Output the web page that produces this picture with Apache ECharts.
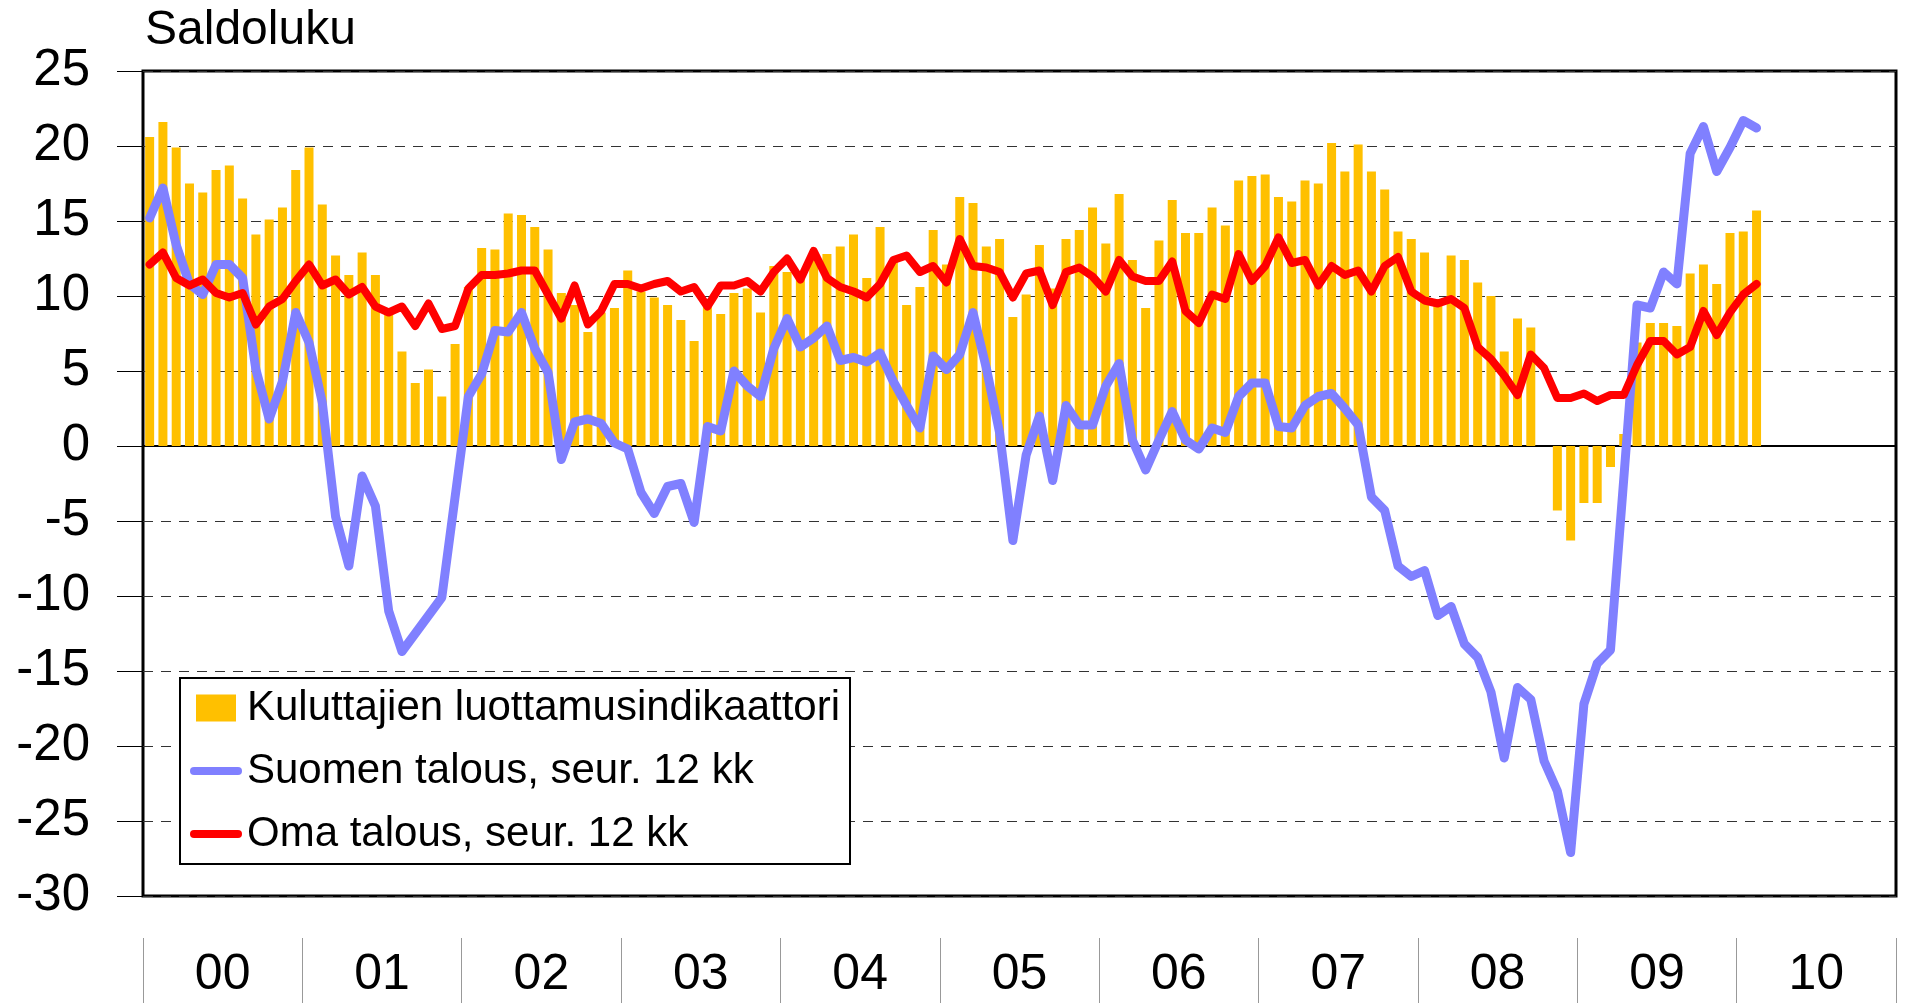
<!DOCTYPE html>
<html>
<head>
<meta charset="utf-8">
<script src="https://cdn.jsdelivr.net/npm/echarts@6/dist/echarts.min.js"></script>
<style>
  html, body { margin: 0; padding: 0; background: #fff; }
  #chart { width: 1905px; height: 1003px; }
</style>
</head>
<body>
<div id="chart"></div>
<script>
// kuukausidata 2000-01 ... 2010-02
const years = ['00', '01', '02', '03', '04', '05', '06', '07', '08', '09', '10']
const yTicks = { min: -30, max: 25, step: 5 }

// Kuluttajien luottamusindikaattori
const kuluttajat = [
  20.6, 21.6, 19.9, 17.5, 16.9, 18.4, 18.7, 16.5, 14.1, 15.1, 15.9, 18.4,
  19.9, 16.1, 12.7, 11.4, 12.9, 11.4, 9.0, 6.3, 4.2, 5.1, 3.3, 6.8,
  10.6, 13.2, 13.1, 15.5, 15.4, 14.6, 13.1, 10.2, 9.4, 7.6, 8.9, 9.2,
  11.7, 10.3, 9.9, 9.4, 8.4, 7.0, 9.4, 8.8, 10.2, 10.5, 8.9, 12.0,
  11.6, 11.2, 12.6, 12.8, 13.3, 14.1, 11.2, 14.6, 12.3, 9.4, 10.6, 14.4,
  12.1, 16.6, 16.2, 13.3, 13.8, 8.6, 10.1, 13.4, 10.5, 13.8, 14.4, 15.9,
  13.5, 16.8, 12.4, 9.2, 13.7, 16.4, 14.2, 14.2, 15.9, 14.7, 17.7, 18.0,
  18.1, 16.6, 16.3, 17.7, 17.5, 20.2, 18.3, 20.1, 18.3, 17.1, 14.3, 13.8,
  12.9, 9.8, 12.7, 12.4, 10.9, 10.0, 6.3, 8.5, 7.9, null, -4.3, -6.3,
  -3.8, -3.8, -1.4, 0.8, 6.9, 8.2, 8.2, 8.0, 11.5, 12.1, 10.8, 14.2,
  14.3, 15.7
]

// Suomen talous, seur. 12 kk
const suomi = [
  15.2, 17.2, 13.4, 10.8, 10.1, 12.1, 12.1, 11.2, 5.1, 1.8, 4.3, 8.9,
  6.9, 2.9, -4.7, -8.0, -2.0, -4.0, -11.0, -13.7, -12.5, -11.3, -10.1, -3.4,
  3.3, 4.8, 7.7, 7.6, 8.9, 6.5, 4.9, -0.9, 1.6, 1.8, 1.5, 0.2,
  -0.2, -3.1, -4.5, -2.7, -2.5, -5.1, 1.3, 1.0, 5.0, 4.0, 3.3, 6.5,
  8.5, 6.6, 7.2, 8.0, 5.7, 5.9, 5.6, 6.2, 4.3, 2.7, 1.2, 6.0,
  5.1, 6.1, 8.9, 5.2, 0.9, -6.3, -0.6, 2.0, -2.3, 2.7, 1.4, 1.4,
  4.0, 5.5, 0.4, -1.6, 0.4, 2.3, 0.4, -0.2, 1.2, 0.9, 3.3, 4.2,
  4.2, 1.3, 1.2, 2.7, 3.3, 3.5, 2.5, 1.4, -3.4, -4.3, -8.0, -8.7,
  -8.3, -11.3, -10.7, -13.2, -14.1, -16.4, -20.8, -16.1, -16.9, -21.0, -23.0, -27.1,
  -17.2, -14.5, -13.6, -2.2, 9.4, 9.2, 11.6, 10.8, 19.5, 21.3, 18.3, 19.9,
  21.7, 21.2
]

// Oma talous, seur. 12 kk
const oma = [
  12.1, 12.9, 11.2, 10.7, 11.1, 10.2, 9.9, 10.2, 8.1, 9.3, 9.8, 11.0,
  12.1, 10.7, 11.1, 10.1, 10.6, 9.3, 8.9, 9.3, 8.0, 9.5, 7.8, 8.0,
  10.5, 11.4, 11.4, 11.5, 11.7, 11.7, 10.1, 8.5, 10.7, 8.1, 9.0, 10.8,
  10.8, 10.5, 10.8, 11.0, 10.3, 10.6, 9.3, 10.7, 10.7, 11.0, 10.3, 11.6,
  12.5, 11.1, 13.0, 11.2, 10.6, 10.3, 9.9, 10.8, 12.4, 12.7, 11.6, 12.0,
  10.9, 13.8, 12.0, 11.9, 11.6, 9.9, 11.5, 11.7, 9.4, 11.6, 11.9, 11.3,
  10.3, 12.4, 11.3, 11.0, 11.0, 12.3, 9.0, 8.2, 10.1, 9.8, 12.8, 11.0,
  12.0, 13.9, 12.2, 12.4, 10.7, 12.0, 11.4, 11.7, 10.3, 12.0, 12.6, 10.3,
  9.7, 9.5, 9.8, 9.2, 6.6, 5.8, 4.7, 3.4, 6.1, 5.2, 3.2, 3.2,
  3.5, 3.0, 3.4, 3.4, 5.4, 7.0, 7.0, 6.1, 6.6, 9.0, 7.4, 8.9,
  10.1, 10.8
]

const months = []
years.forEach(y => {
  for (let m = 1; m <= 12; m++) months.push(y + '-' + (m < 10 ? '0' + m : m))
})

const font = 'Liberation Sans, Arial, sans-serif'
const lineIcon = 'path://M4,0h44a4,4 0 0 1 0,8h-44a4,4 0 0 1 0,-8z'
const chart = echarts.init(document.getElementById('chart'))
chart.setOption({
  animation: false,
  backgroundColor: '#fff',
  title: {
    text: 'Saldoluku',
    left: 140,
    top: 2,
    textStyle: { fontFamily: font, fontSize: 48, fontWeight: 'normal', color: '#000' }
  },
  legend: {
    orient: 'vertical',
    left: 180,
    top: 678,
    padding: [9, 10, 9, 10],
    itemGap: 21,
    itemWidth: 52,
    itemHeight: 27,
    backgroundColor: '#fff',
    borderColor: '#000',
    borderWidth: 2,
    textStyle: { fontFamily: font, fontSize: 42, color: '#000' },
    data: [
      { name: 'Kuluttajien luottamusindikaattori', icon: 'path://M0,0h40v27h-40z' },
      { name: 'Suomen talous, seur. 12 kk', icon: lineIcon },
      { name: 'Oma talous, seur. 12 kk', icon: lineIcon }
    ]
  },
  grid: {
    left: 143,
    right: 9,
    top: 71,
    bottom: 107,
    show: true,
    borderColor: '#000',
    borderWidth: 3,
    backgroundColor: '#fff'
  },
  xAxis: [
    {
      type: 'category',
      data: months,
      boundaryGap: true,
      axisLine: { show: true, onZero: true, lineStyle: { color: '#000', width: 2 } },
      axisTick: { show: false },
      axisLabel: { show: false },
      splitLine: { show: false }
    },
    {
      type: 'category',
      data: years,
      position: 'bottom',
      offset: 42,
      boundaryGap: true,
      axisLine: { show: false },
      axisTick: { show: true, length: 65, lineStyle: { color: '#999', width: 1 } },
      axisLabel: { margin: 12, fontFamily: font, fontSize: 50, color: '#000' },
      splitLine: { show: false }
    }
  ],
  yAxis: {
    type: 'value',
    min: yTicks.min,
    max: yTicks.max,
    interval: yTicks.step,
    axisLine: { show: false },
    axisTick: { show: true, inside: false, length: 26, lineStyle: { color: '#000', width: 1 } },
    axisLabel: { margin: 53, fontFamily: font, fontSize: 51, color: '#000' },
    splitLine: { show: true, lineStyle: { color: '#333', width: 1, type: [10, 8] } }
  },
  series: [
    {
      name: 'Kuluttajien luottamusindikaattori',
      type: 'bar',
      data: kuluttajat,
      barWidth: 9,
      itemStyle: { color: '#FFC000' }
    },
    {
      name: 'Suomen talous, seur. 12 kk',
      type: 'line',
      data: suomi,
      symbol: 'none',
      lineStyle: { color: '#8080FF', width: 9, join: 'round', cap: 'round' },
      itemStyle: { color: '#8080FF' }
    },
    {
      name: 'Oma talous, seur. 12 kk',
      type: 'line',
      data: oma,
      symbol: 'none',
      lineStyle: { color: '#FF0000', width: 8, join: 'round', cap: 'round' },
      itemStyle: { color: '#FF0000' }
    }
  ]
})
</script>
</body>
</html>
